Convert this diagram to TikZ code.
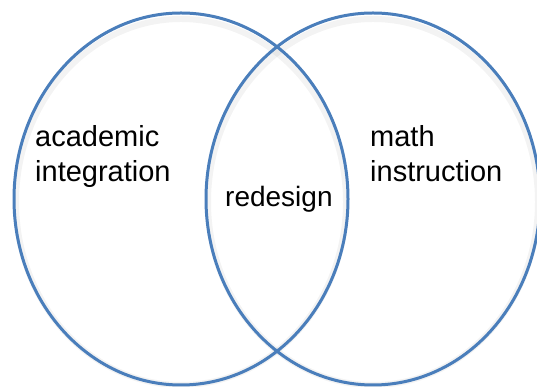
\documentclass[tikz,border=0pt]{standalone}
\usepackage{fontspec}
\setmainfont{Liberation Sans}
\usetikzlibrary{shapes.geometric}
\definecolor{vennblue}{RGB}{74,126,187}
\tikzset{
  circ/.style={draw=vennblue, line width=3pt, ellipse, minimum width=334pt, minimum height=372pt, inner sep=0pt},
  circshadow/.style={draw=black!40, line width=6pt, opacity=0.12, ellipse, minimum width=330pt, minimum height=366pt, inner sep=0pt},
  lbl/.style={align=left, anchor=base west, inner sep=0pt, font=\fontsize{29}{35}\selectfont}
}
\begin{document}
\begin{tikzpicture}[x=1pt, y=1pt]
    \useasboundingbox (0,0) rectangle (537,387);

    % soft shadows
    \node[circshadow] (shL) at (181,185) {};
    \node[circshadow] (shR) at (373,185) {};

    \node[circ] (left) at (181,188) {};
    \node[circ] (right) at (373,188) {};

    \node[lbl] (acad) at (35,205) {academic\\integration};
    \node[lbl] (math) at (370,205) {math\\instruction};
    \node[lbl, font=\fontsize{28}{35}\selectfont] (redesign) at (225,180) {redesign};
\end{tikzpicture}
\end{document}
